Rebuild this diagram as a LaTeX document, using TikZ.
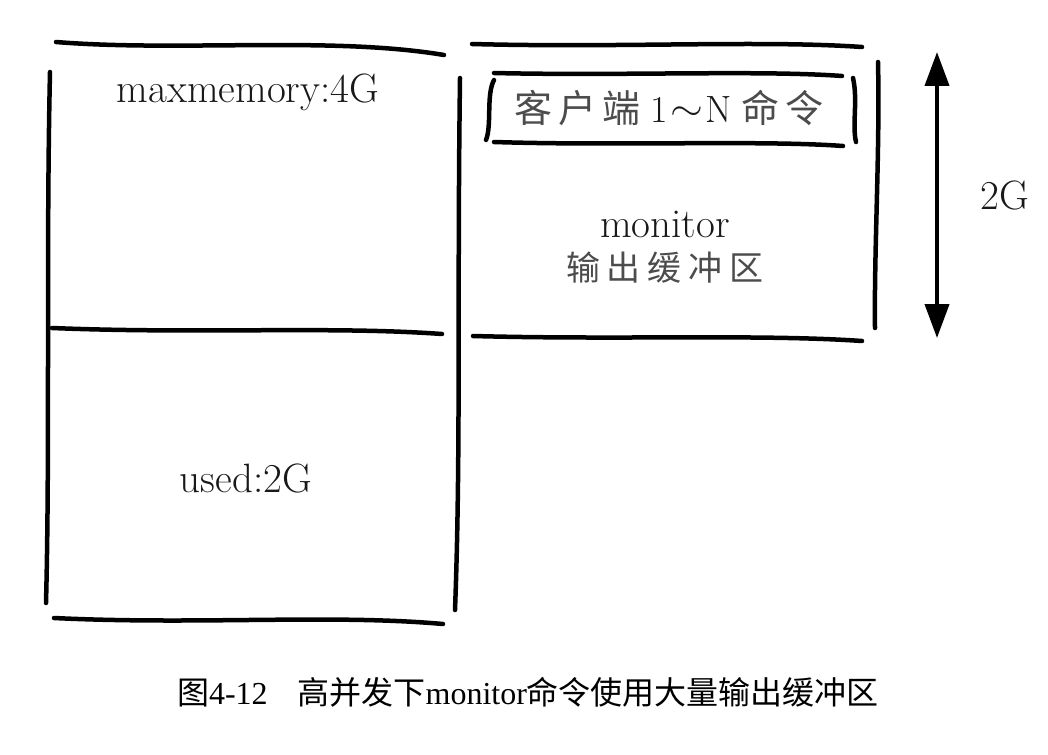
\documentclass[tikz,border=0pt]{standalone}
\usepackage{fontspec}
\newfontfamily\cjk{Noto Sans CJK SC}
\newfontfamily\capfont{Liberation Serif}
\usetikzlibrary{arrows.meta}

\begin{document}
\begin{tikzpicture}[x=1pt, y=-1pt,
  pen/.style={line width=4.5pt, line cap=round},
  txt/.style={font=\fontsize{41}{44}\selectfont, text=black!90, inner sep=0pt},
  hanzi/.style={font=\cjk\fontsize{34}{38}\selectfont, text=black!70, inner sep=0pt}]
  \useasboundingbox (0,0) rectangle (1048,754);

  % Left block: maxmemory / used
  \draw[pen] (56,42) .. controls (180,52) and (330,36) .. (444,55);
  \draw[pen] (50,72) .. controls (46,250) and (50,450) .. (46,603);
  \draw[pen] (52,328) .. controls (200,334) and (330,326) .. (442,334);
  \draw[pen] (460,78) .. controls (457,300) and (461,450) .. (455,610);
  \draw[pen] (54,618) .. controls (200,625) and (330,614) .. (443,624);

  % Right block: monitor buffer
  \draw[pen] (472,44) .. controls (620,48) and (760,40) .. (862,47);
  \draw[pen] (878,62) .. controls (880,150) and (874,250) .. (875,328);
  \draw[pen] (473,336) .. controls (620,340) and (760,334) .. (862,341);

  % Inner box: client commands
  \draw[pen] (494,73) .. controls (620,76) and (760,70) .. (842,76);
  \draw[pen] (494,142) .. controls (620,146) and (760,140) .. (843,146);
  \draw[pen] (494,80) .. controls (486,95) and (492,125) .. (486,140);
  \draw[pen] (853,78) .. controls (858,100) and (852,125) .. (856,142);

  % Texts
  \node[txt] (maxmem) at (248,92) {maxmemory:4G};
  \node[txt] (used) at (246,478) {used:2G};
  \node[txt, font=\fontsize{38}{40}\selectfont] (clients) at (669,108)
    {{\cjk\color{black!70}客\hspace{6pt}户\hspace{6pt}端}\hspace{10pt}1\hspace{2pt}\raisebox{2pt}{\scalebox{1.7}[1.5]{$\sim$}}\hspace{2pt}N\hspace{10pt}{\cjk\color{black!70}命\hspace{6pt}令}};
  \node[txt] (monitor) at (665,224) {monitor};
  \node[hanzi] (buffer) at (665,268) {输\hspace{7pt}出\hspace{7pt}缓\hspace{7pt}冲\hspace{7pt}区};
  \node[txt] (size) at (1005,195) {2G};

  % Size arrow
  \coordinate (top) at (937,52);
  \coordinate (bot) at (937,338);
  \draw[line width=4pt, {Triangle[length=34pt,width=24pt]}-{Triangle[length=34pt,width=24pt]}] (top) -- (bot);

  % Caption
  \node[inner sep=0pt, font=\fontsize{32}{36}\selectfont] (caption) at (528,692)
    {{\cjk 图}{\capfont 4-12}\hspace{30pt}{\cjk 高并发下}{\capfont monitor}{\cjk 命令使用大量输出缓冲区}};
\end{tikzpicture}
\end{document}
